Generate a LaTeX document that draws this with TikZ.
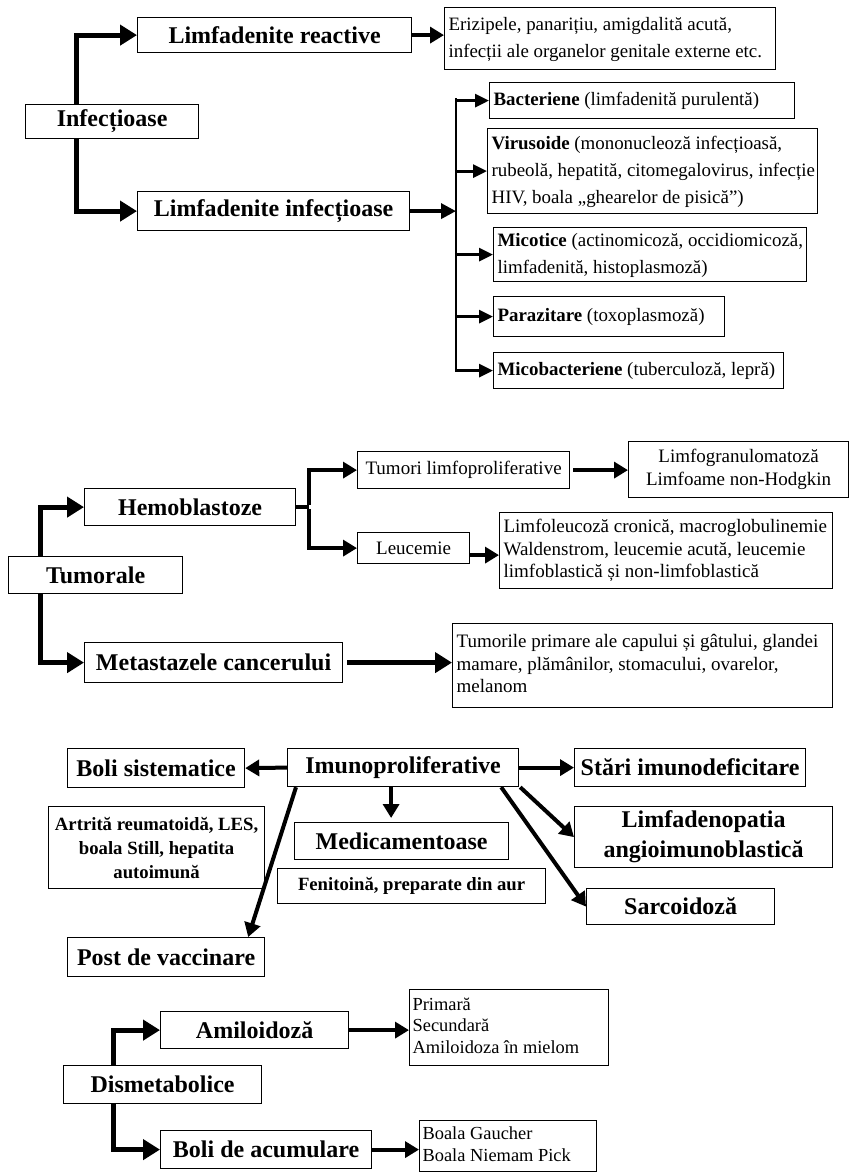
\documentclass[tikz,border=0pt]{standalone}
\usepackage{fontspec}
\setmainfont{Liberation Serif}
\usetikzlibrary{arrows.meta}
\newcommand{\ltab}[2]{\makebox[#1][l]{\begin{tabular}{@{}l@{}}#2\end{tabular}}}
\tikzset{
  bx/.style={draw, line width=1.2pt, inner sep=0pt, anchor=north west},
  lbx/.style={bx, inner xsep=4pt},
  ttl/.style={font=\fontsize{24}{30}\selectfont\bfseries, align=center},
  big/.style={line width=5pt, -{Triangle[length=17pt,width=20pt]}},
  med/.style={line width=4pt, -{Triangle[length=14pt,width=16pt]}},
  sml/.style={line width=3pt, -{Triangle[length=14pt,width=13pt]}},
  plain/.style={line width=2.4pt},
  stub/.style={line width=4pt},
  fA/.style={font=\fontsize{18.9}{26.7}\selectfont},
  fB/.style={font=\fontsize{19}{22.5}\selectfont},
  fC/.style={font=\fontsize{18.4}{21.7}\selectfont},
  fD/.style={font=\fontsize{18.7}{24}\selectfont\bfseries},
}
\begin{document}
\begin{tikzpicture}[x=1pt,y=-1pt]
\useasboundingbox (0,0) rectangle (849,1173);
\fill[white] (0,0) rectangle (849,1173);

% ---------- Section 1 ----------
\node[bx, ttl, minimum width=173, minimum height=34] (inf) at (25,104) {Infecțioase};
\node[bx, ttl, minimum width=274, minimum height=35] (lr) at (137,17) {Limfadenite reactive};
\node[bx, ttl, minimum width=272, minimum height=39] (li) at (137,191) {Limfadenite infecțioase};
\node[lbx, fA, minimum width=331, minimum height=62] (er) at (444,7)
  {\ltab{323pt}{Erizipele, panarițiu, amigdalită acută,\\infecții ale organelor genitale externe etc.}};
\node[lbx, fA, minimum width=305, minimum height=36] (bac) at (489,82)
  {\ltab{297pt}{\textbf{Bacteriene} (limfadenită purulentă)}};
\node[lbx, fA, minimum width=330, minimum height=85] (vir) at (487,128)
  {\ltab{322pt}{\textbf{Virusoide} (mononucleoză infecțioasă,\\rubeolă, hepatită, citomegalovirus, infecție\\HIV, boala „ghearelor de pisică”)}};
\node[lbx, fA, minimum width=313, minimum height=54] (mic) at (493,227)
  {\ltab{305pt}{\textbf{Micotice} (actinomicoză, occidiomicoză,\\limfadenită, histoplasmoză)}};
\node[lbx, fA, minimum width=231, minimum height=40] (par) at (493,296)
  {\ltab{223pt}{\textbf{Parazitare} (toxoplasmoză)}};
\node[lbx, fA, minimum width=290, minimum height=36] (mcb) at (493,352)
  {\ltab{282pt}{\textbf{Micobacteriene} (tuberculoză, lepră)}};

\draw[big] ([xshift=51]inf.north west) |- (lr.west);
\draw[big] ([xshift=51]inf.south west) |- (li.west);
\draw[med] (lr.east) -- (er.west |- lr.east);
\coordinate (vt) at (456,98);
\draw[plain] (vt) -- (vt |- mcb.west);
\draw[line width=3.5pt, -{Triangle[length=15pt,width=15pt]}] (li.east) -- (vt |- li.east);
\draw[sml] ([xshift=-1.2]vt |- bac.west) -- (bac.west);
\draw[sml] ([xshift=-1.2]vt |- vir.west) -- (vir.west);
\draw[sml] ([xshift=-1.2]vt |- mic.west) -- (mic.west);
\draw[sml] ([xshift=-1.2]vt |- par.west) -- (par.west);
\draw[sml] ([xshift=-1.2]vt |- mcb.west) -- (mcb.west);

% ---------- Section 2 ----------
\node[bx, ttl, minimum width=174, minimum height=37] (tum) at (8,556) {Tumorale};
\node[bx, ttl, minimum width=211, minimum height=37] (hem) at (84,488) {Hemoblastoze};
\node[bx, ttl, minimum width=258, minimum height=40] (met) at (84,642) {Metastazele cancerului};
\node[bx, fB, minimum width=212, minimum height=37] (tlp) at (357,451) {Tumori limfoproliferative};
\node[bx, fB, minimum width=112, minimum height=31] (leu) at (357,532) {Leucemie};
\node[bx, fB, minimum width=220, minimum height=56, align=center] (lgr) at (628,441)
  {Limfogranulomatoză\\Limfoame non-Hodgkin};
\node[lbx, fB, minimum width=333, minimum height=76] (llc) at (499,512)
  {\ltab{325pt}{Limfoleucoză cronică, macroglobulinemie\\Waldenstrom, leucemie acută, leucemie\\limfoblastică și non-limfoblastică}};
\node[lbx, fB, minimum width=380, minimum height=84] (tpr) at (452,623)
  {\ltab{372pt}{Tumorile primare ale capului și gâtului, glandei\\mamare, plămânilor, stomacului, ovarelor,\\melanom}};

\draw[big] ([xshift=32]tum.north west) |- (hem.west);
\draw[big] ([xshift=32]tum.south west) |- (met.west);
\draw[stub] (hem.east) -- ++(13,0) coordinate (hj);
\draw[med] ([yshift=2]hj) |- (tlp.west);
\draw[med] ([yshift=-2]hj) |- (leu.west);
\draw[med] ([xshift=3]tlp.east) -- (lgr.west |- tlp.east);
\draw[med] ([yshift=-7]leu.east) -- ([yshift=-7]llc.west |- leu.east);
\draw[big] ([xshift=4]met.east) -- (tpr.west |- met.east);

% ---------- Section 3 ----------
\node[bx, ttl, minimum width=231, minimum height=38] (imu) at (287,748) {Imunoproliferative};
\node[bx, ttl, minimum width=177, minimum height=39] (bsi) at (67,748) {Boli sistematice};
\node[bx, ttl, minimum width=231, minimum height=38] (sta) at (574,748) {Stări imunodeficitare};
\node[bx, ttl, minimum width=214, minimum height=37] (med) at (294,822) {Medicamentoase};
\node[bx, fD, minimum width=268, minimum height=35] (fen) at (277,868) {Fenitoină, preparate din aur};
\node[bx, fD, minimum width=216, minimum height=82, align=center] (art) at (48,806)
  {Artrită reumatoidă, LES,\\boala Still, hepatita\\autoimună};
\node[bx, ttl, minimum width=197, minimum height=39] (pov) at (67,937) {Post de vaccinare};
\node[bx, ttl, minimum width=258, minimum height=61] (lan) at (574,806) {Limfadenopatia\\angioimunoblastică};
\node[bx, ttl, minimum width=188, minimum height=36] (sar) at (586,888) {Sarcoidoză};

\draw[med] (imu.west) -- (bsi.east);
\draw[med] (imu.east) -- (sta.west);
\draw[med] ([xshift=-12]imu.south) -- ([xshift=-12,yshift=4]imu.south |- med.north);
\draw[med] ([xshift=9]imu.south west) -- ([xshift=-17]pov.north east);
\draw[med] ([xshift=1]imu.south east) -- (lan.west);
\draw[med] ([xshift=-18]imu.south east) -- (sar.west);

% ---------- Section 4 ----------
\node[bx, ttl, minimum width=198, minimum height=38] (dis) at (63,1065) {Dismetabolice};
\node[bx, ttl, minimum width=188, minimum height=37] (ami) at (160,1011) {Amiloidoză};
\node[bx, ttl, minimum width=211, minimum height=38] (bac2) at (160,1130) {Boli de acumulare};
\node[bx, fC, inner xsep=3pt, minimum width=199, minimum height=76] (pri) at (409,989)
  {\ltab{193pt}{Primară\\Secundară\\Amiloidoza în mielom}};
\node[bx, fC, inner xsep=3pt, minimum width=177, minimum height=51] (bga) at (419,1120)
  {\ltab{171pt}{Boala Gaucher\\Boala Niemam Pick}};

\draw[big] ([xshift=50]dis.north west) |- (ami.west);
\draw[big] ([xshift=50]dis.south west) |- (bac2.west);
\draw[med] (ami.east) -- (pri.west |- ami.east);
\draw[med] (bac2.east) -- (bga.west |- bac2.east);
\end{tikzpicture}
\end{document}
